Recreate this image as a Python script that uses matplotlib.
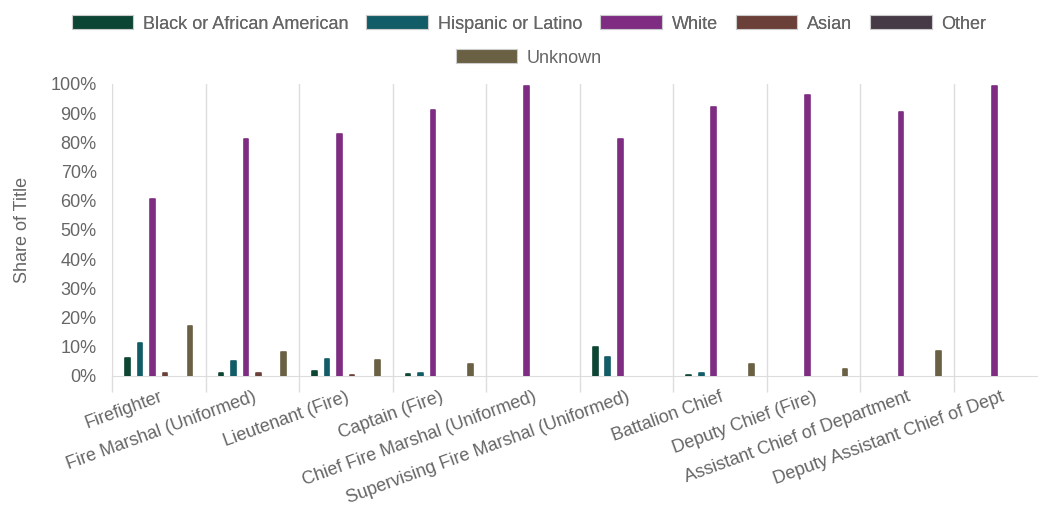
import numpy as np
import matplotlib.pyplot as plt
from matplotlib.patches import Patch

plt.rcParams['font.family'] = ['Liberation Sans', 'DejaVu Sans']

titles = ['Firefighter', 'Fire Marshal (Uniformed)', 'Lieutenant (Fire)', 'Captain (Fire)',
          'Chief Fire Marshal (Uniformed)', 'Supervising Fire Marshal (Uniformed)',
          'Battalion Chief', 'Deputy Chief (Fire)', 'Assistant Chief of Department',
          'Deputy Assistant Chief of Dept']
groups = ['Black or African American', 'Hispanic or Latino', 'White', 'Asian', 'Other', 'Unknown']

black = [6.3, 0.9, 1.7, 0.8, 0, 10.0, 0.2, 0, 0, 0]
hispanic = [11.2, 5.0, 5.7, 0.9, 0, 6.4, 1.0, 0, 0, 0]
white = [60.5, 81.0, 83.0, 91.0, 99.3, 81.3, 92.0, 96.3, 90.3, 99.3]
asian = [0.9, 0.9, 0.3, 0, 0, 0, 0, 0, 0, 0]
other = [0, 0, 0, 0, 0, 0, 0, 0, 0, 0]
unknown = [17.1, 8.3, 5.6, 4.0, 0, 0, 4.2, 2.3, 8.4, 0]

colors = ['#0d4534', '#115c66', '#7e2d82', '#6b4038', '#453a45', '#6a6043']
series = [black, hispanic, white, asian, other, unknown]

txt = '#666666'
grid = '#dddddd'

fig = plt.figure(figsize=(10.38, 5.2), dpi=100)
ax = fig.add_axes([112 / 1038, 144 / 520, 935.5 / 1038, 292 / 520])

x = np.arange(len(titles))
step = 0.134
for k, (vals, c) in enumerate(zip(series, colors)):
    vals = np.array(vals)
    m = vals > 0
    ax.bar(x[m] + (k - 2.5) * step, vals[m], width=0.05, color=c, edgecolor=c,
           linewidth=1.2, joinstyle='round', zorder=3)

ax.set_xlim(-0.5, len(titles) - 0.5)
ax.set_ylim(0, 100)
ax.set_yticks(np.arange(0, 101, 10))
ax.set_yticklabels([f'{v}%' for v in range(0, 101, 10)])
ax.tick_params(axis='y', length=0, pad=11, labelsize=13, labelcolor=txt)

ax.set_xticks(np.arange(-0.5, len(titles), 1.0))
ax.set_xticklabels([])
ax.set_xticks(x, minor=True)
ax.set_xticklabels(titles, minor=True, rotation=20, ha='right', rotation_mode='anchor')
ax.tick_params(axis='x', which='major', length=11.5, color=grid, width=1)
ax.tick_params(axis='x', which='minor', length=0, pad=9, labelsize=13, labelcolor=txt)
ax.grid(axis='x', which='major', color=grid, linewidth=1, zorder=0)

for s in ['top', 'right']:
    ax.spines[s].set_visible(False)
ax.spines['left'].set_color(grid)
ax.spines['bottom'].set_color(grid)

ax.set_ylabel('Share of Title', fontsize=13, color=txt, labelpad=14)

handles = [Patch(facecolor=c, edgecolor='#cccccc', linewidth=0.8) for c in colors]
leg1 = fig.legend(handles[:5], groups[:5], loc='center', bbox_to_anchor=(529 / 1038, 1 - 24 / 520),
                  ncol=5, frameon=False, fontsize=13, labelcolor=txt, handlelength=3.4,
                  handleheight=0.8, handletextpad=0.55, columnspacing=1.0, borderpad=0)
fig.add_artist(leg1)
fig.legend(handles[5:], groups[5:], loc='center', bbox_to_anchor=(529 / 1038, 1 - 58 / 520),
           frameon=False, fontsize=13, labelcolor=txt, handlelength=3.4,
           handleheight=0.8, handletextpad=0.55, borderpad=0)

fig.savefig('out.png', dpi=100)
